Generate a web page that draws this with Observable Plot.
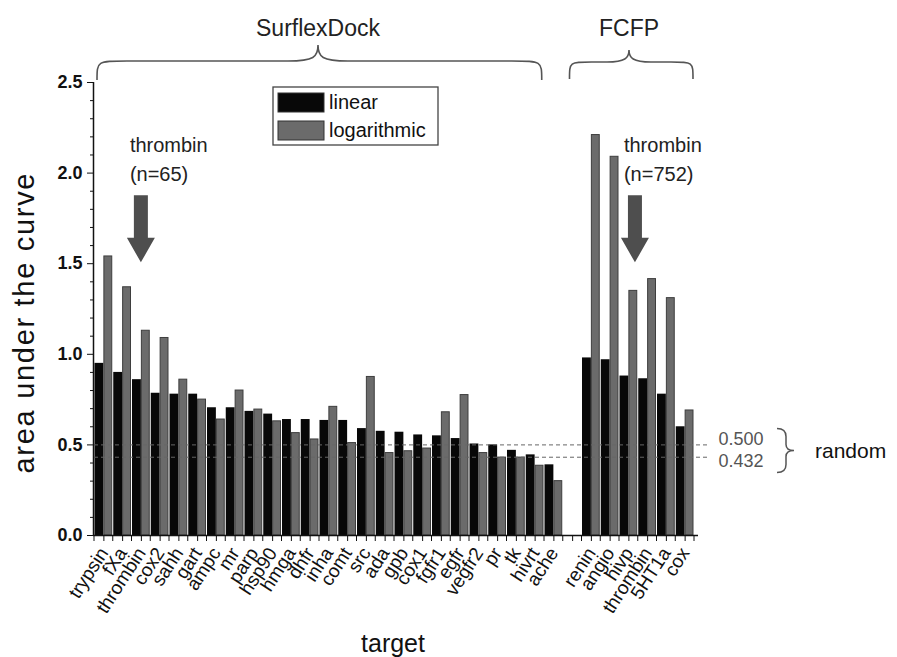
<!DOCTYPE html>
<html><head><meta charset="utf-8">
<script src="https://cdn.jsdelivr.net/npm/d3@7"></script>
<script src="https://cdn.jsdelivr.net/npm/@observablehq/plot@0.6"></script>
<style>
body{margin:0;background:#fff;font-family:"Liberation Sans",Arial,sans-serif}
#chart svg{display:block}
</style>
</head><body><div id="chart"></div><script>
// ---- data ----
const surflexTargets = ["trypsin","fXa","thrombin","cox2","sahh","gart","ampc","mr","parp","hsp90","hmga","dhfr","inha","comt","src","ada","gpb","cox1","fgfr1","egfr","vegfr2","pr","tk","hivrt","ache"];
const surflexLinear = [0.95,0.90,0.86,0.785,0.78,0.78,0.705,0.705,0.685,0.67,0.64,0.64,0.635,0.635,0.59,0.575,0.57,0.555,0.55,0.535,0.505,0.50,0.47,0.445,0.39];
const surflexLog    = [1.54,1.37,1.13,1.09,0.86,0.75,0.64,0.80,0.695,0.63,0.565,0.53,0.71,0.51,0.875,0.455,0.465,0.48,0.68,0.775,0.455,0.43,0.43,0.385,0.30];
const fcfpTargets = ["renin","angio","hivp","thrombin","5HT1a","cox"];
const fcfpLinear  = [0.98,0.97,0.88,0.865,0.78,0.60];
const fcfpLog     = [2.21,2.09,1.35,1.415,1.31,0.69];
const seriesNames = ["linear","logarithmic"];
const groupNames = ["SurflexDock","FCFP"];
const yTicks = [0,0.5,1.0,1.5,2.0,2.5];
const yMinorTicks = [0.1,0.2,0.3,0.4,0.6,0.7,0.8,0.9,1.1,1.2,1.3,1.4,1.6,1.7,1.8,1.9,2.1,2.2,2.3,2.4];
const randomLevels = [0.5, 0.432];
const randomLabels = ["0.500","0.432"];
const annotations = [
  {lines:["thrombin","(n=65)"], key:"S:thrombin"},
  {lines:["thrombin","(n=752)"], key:"F:hivp"}
];

// ---- build table ----
const gapKey = "gap";
const surflexKeys = surflexTargets.map(t => "S:" + t);
const fcfpKeys = fcfpTargets.map(t => "F:" + t);
const domain = [...surflexKeys, gapKey, ...fcfpKeys];
const labelOf = new Map([
  ...surflexKeys.map((k,i)=>[k, surflexTargets[i]]),
  [gapKey, ""],
  ...fcfpKeys.map((k,i)=>[k, fcfpTargets[i]])
]);
const rows = [];
surflexKeys.forEach((k,i)=>{
  rows.push({key:k, series:seriesNames[0], value:surflexLinear[i]});
  rows.push({key:k, series:seriesNames[1], value:surflexLog[i]});
});
fcfpKeys.forEach((k,i)=>{
  rows.push({key:k, series:seriesNames[0], value:fcfpLinear[i]});
  rows.push({key:k, series:seriesNames[1], value:fcfpLog[i]});
});
const linRows = rows.filter(d => d.series === "linear");
const logRows = rows.filter(d => d.series === "logarithmic");

const W = 897, H = 657;
const mL = 94, mR = 203, mT = 82, mB = 122;
const bw = (W - mL - mR) / domain.length;
const BLACK = "#080808", GREY = "#6b6b6b", INK = "#555";

const chart = Plot.plot({
  width: W, height: H,
  marginLeft: mL, marginRight: mR, marginTop: mT, marginBottom: mB,
  style: {fontFamily: "Liberation Sans, Arial, sans-serif", fontSize: "19px", background: "#fff", overflow: "visible", color: "#111"},
  x: {type: "band", domain, padding: 0, round: false, axis: null},
  y: {domain: [0, 2.5], axis: null},
  marks: [
    Plot.barY(linRows, {x: "key", y: "value", fill: BLACK, insetLeft: 0.5, insetRight: bw/2}),
    Plot.barY(logRows, {x: "key", y: "value", fill: GREY, stroke: "#3e3e3e", strokeWidth: 1, insetLeft: bw/2 + 0.5, insetRight: 1}),
    Plot.ruleY(randomLevels, {stroke: "#666", strokeWidth: 1, strokeDasharray: "4,3", insetRight: -14}),
    Plot.text([randomLevels[0]], {y: d => d, text: () => randomLabels[0], frameAnchor: "right", textAnchor: "start", dx: 24, dy: -6, fontSize: 18, fill: INK}),
    Plot.text([randomLevels[1]], {y: d => d, text: () => randomLabels[1], frameAnchor: "right", textAnchor: "start", dx: 24, dy: 4, fontSize: 18, fill: INK}),
    Plot.ruleY([0], {stroke: "#111", strokeWidth: 1.5, insetRight: -4, insetLeft: -1}),
    Plot.axisY({ticks: yTicks, tickSize: 7, tickPadding: 5, tickFormat: d => d.toFixed(1), fontSize: 18, fontWeight: "bold", label: null, stroke: "#111"}),
    Plot.axisY({ticks: yMinorTicks, tickSize: 4, tickFormat: () => "", label: null, stroke: "#111"}),
    Plot.axisX({tickSize: 6, tickRotate: -57, tickPadding: 8, tickFormat: k => labelOf.get(k), fontSize: 19, label: null, stroke: "#111"})
  ]
});
document.getElementById("chart").appendChild(chart);

// ---- annotations layered on the Plot svg, positioned with its scales ----
const sx = chart.scale("x"), sy = chart.scale("y");
const X = k => sx.apply(k);
const Y = v => sy.apply(v);
const svg = d3.select(chart);
const g = svg.append("g").attr("font-family", "Liberation Sans, Arial, sans-serif").attr("text-anchor", "start");

// y axis line
g.append("line").attr("x1", mL - 0.5).attr("x2", mL - 0.5).attr("y1", Y(2.5)).attr("y2", Y(0)).attr("stroke", "#111").attr("stroke-width", 1.5);
// x edge ticks (between categories)
domain.forEach((k) => {
  const x0 = X(k);
  g.append("line").attr("x1", x0).attr("x2", x0).attr("y1", Y(0)).attr("y2", Y(0) + 6).attr("stroke", "#111");
});
const xEnd = X(domain[domain.length-1]) + bw;
g.append("line").attr("x1", xEnd).attr("x2", xEnd).attr("y1", Y(0)).attr("y2", Y(0) + 6).attr("stroke", "#111");

// axis titles
g.append("text").attr("transform", `translate(34,${(Y(0)+Y(2.5))/2 + 15}) rotate(-90)`).attr("text-anchor", "middle")
  .attr("font-size", 29).attr("textLength", 300).attr("lengthAdjust", "spacing").attr("fill", "#111").text("area under the curve");
g.append("text").attr("x", 393).attr("y", 652).attr("text-anchor", "middle").attr("font-size", 25).attr("fill", "#111").text("target");

// group braces
function hBrace(x0, x1, xm, yTop, yLine, yEnd, r) {
  return `M${x0},${yEnd} C${x0},${yLine} ${x0},${yLine} ${x0 + r},${yLine} L${xm - r},${yLine} C${xm - 4},${yLine} ${xm},${yLine - 4} ${xm},${yTop}`
       + ` C${xm},${yLine - 4} ${xm + 4},${yLine} ${xm + r},${yLine} L${x1 - r},${yLine} C${x1},${yLine} ${x1},${yLine} ${x1},${yEnd}`;
}
const sL = X(surflexKeys[0]) + 3, sR = X(surflexKeys[surflexKeys.length-1]) + bw - 21;
const fL = X(fcfpKeys[0]) - 12, fR = X(fcfpKeys[fcfpKeys.length-1]) + bw - 1;
const sM = 318, fM = 629;
g.append("path").attr("d", hBrace(sL, sR, sM, 45, 61, 80, 30)).attr("fill", "none").attr("stroke", INK).attr("stroke-width", 1.6);
g.append("path").attr("d", hBrace(fL, fR, fM, 50, 62, 79, 22)).attr("fill", "none").attr("stroke", INK).attr("stroke-width", 1.6);
g.append("text").attr("x", sM).attr("y", 36).attr("text-anchor", "middle").attr("font-size", 23).attr("fill", "#222").text(groupNames[0]);
g.append("text").attr("x", fM).attr("y", 36).attr("text-anchor", "middle").attr("font-size", 23).attr("fill", "#222").text(groupNames[1]);

// random brace
const yA = Y(randomLevels[0]), yB = Y(randomLevels[1]), yMid = (yA + yB) / 2;
const bx = 777;
g.append("path").attr("d", `M${bx},${yMid-22} Q${bx+9},${yMid-22} ${bx+9},${yMid-14} L${bx+9},${yMid-6} Q${bx+9},${yMid} ${bx+17},${yMid} Q${bx+9},${yMid} ${bx+9},${yMid+6} L${bx+9},${yMid+14} Q${bx+9},${yMid+22} ${bx},${yMid+22}`)
  .attr("fill", "none").attr("stroke", INK).attr("stroke-width", 1.5);
g.append("text").attr("x", 815).attr("y", yMid + 7).attr("font-size", 21).attr("fill", "#111").text("random");

// legend
const lg = g.append("g");
lg.append("rect").attr("x", 273).attr("y", 87).attr("width", 165).attr("height", 58).attr("fill", "#fff").attr("stroke", "#444").attr("stroke-width", 1.3);
const entries = [{name: seriesNames[0], fill: BLACK}, {name: seriesNames[1], fill: GREY}];
entries.forEach((e, i) => {
  const y0 = 93 + i * 28;
  lg.append("rect").attr("x", 278).attr("y", y0).attr("width", 46).attr("height", 19).attr("fill", e.fill).attr("stroke", "#333");
  lg.append("text").attr("x", 329).attr("y", y0 + 16).attr("font-size", 20).attr("fill", "#111").text(e.name);
});

// arrows and thrombin notes
const arrowTop = Y(1.875), headBase = Y(1.64), tip = Y(1.505);
annotations.forEach((a, i) => {
  const cx = i === 0 ? X(a.key) + bw/2 : X(a.key) + bw * 0.85;
  g.append("path").attr("d", `M${cx-7},${arrowTop} L${cx+7},${arrowTop} L${cx+7},${headBase} L${cx+14},${headBase} L${cx},${tip} L${cx-14},${headBase} L${cx-7},${headBase} Z`)
    .attr("fill", "#4e4e4e");
  const tx = cx - 11;
  a.lines.forEach((ln, j) => {
    g.append("text").attr("x", tx).attr("y", 152 + j * 29).attr("font-size", 20).attr("fill", "#222").text(ln);
  });
});
</script></body></html>
